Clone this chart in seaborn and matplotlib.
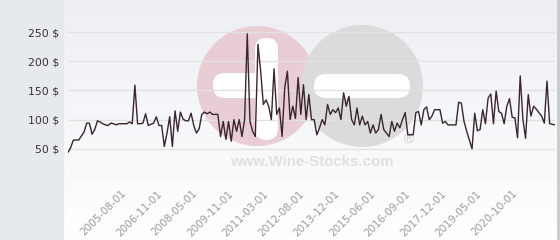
import numpy as np
import pandas as pd
import matplotlib
matplotlib.use("Agg")
import matplotlib.pyplot as plt
import matplotlib.colors as mcolors
from matplotlib.patches import Circle, FancyBboxPatch, Rectangle
import seaborn as sns

# ---- data ----
prices = [
    44, 52, 65, 65, 65, 72, 79, 94, 94, 75, 83, 98, 96, 93, 91, 90, 94, 93, 91,
    93, 93, 93, 93, 96, 93, 159, 93, 93, 94, 110, 90, 92, 94, 105, 90, 90, 54, 77,
    105, 54, 115, 80, 113, 101, 98, 98, 111, 90, 77, 84, 109, 113, 110, 113, 109, 109, 109,
    71, 97, 66, 97, 63, 100, 80, 100, 71, 100, 247, 97, 80, 71, 229, 183, 126, 134, 123, 100,
    187, 109, 120, 71, 155, 183, 100, 123, 102, 172, 109, 160, 100, 143, 100, 100, 74, 86, 100, 91,
    126, 109, 117, 112, 120, 100, 146, 123, 140, 100, 91, 120, 91, 106, 91, 97, 77, 91, 77, 83,
    109, 83, 77, 71, 97, 80, 94, 86, 100, 112, 74, 74, 74, 112, 114, 91, 117, 122, 100, 106, 117,
    117, 117, 94, 97, 91, 91, 91, 91, 130, 128, 97, 80, 65, 50, 111, 81, 83, 117, 93, 137, 144, 93,
    149, 114, 111, 93, 123, 136, 104, 103, 69, 175, 101, 68, 143, 106, 123, 118, 112, 106, 94, 166,
    93, 92, 91,
]
tick_labels = ["2005-08-01", "2006-11-01", "2008-05-01", "2009-11-01", "2011-03-01",
               "2012-08-01", "2013-12-01", "2015-06-01", "2016-09-01", "2017-12-01",
               "2019-05-01", "2020-10-01"]
y_ticks = [0, 50, 100, 150, 200, 250]
first_tick = 21.3
tick_step = 13.27

sns.set_theme(style="white")
plt.rcParams["font.family"] = ["DejaVu Sans"]

W, H = 560, 240
fig = plt.figure(figsize=(W / 100, H / 100), dpi=100)

# background / watermark layer in pixel coordinates
bg = fig.add_axes([0, 0, 1, 1], zorder=0)
bg.set_xlim(0, W)
bg.set_ylim(H, 0)
bg.axis("off")
g = np.linspace(0, 1, H)[:, None, None]
top = np.array(mcolors.to_rgb("#edeff4"))
bot = np.array([1.0, 1.0, 1.0])
img = top * (1 - g) + bot * g
bg.imshow(img, extent=(63, W, H, 0), aspect="auto", zorder=0)
bg.add_patch(Rectangle((0, 0), 63, H, color="#e6eaed", zorder=1))
bg.plot([557.5, 557.5], [0, H], color="#c9c9c9", lw=2, zorder=1)

pink = "#e9cdd4"
grey = "#dbdbdb"
bg.add_patch(Circle((257, 86), 60, color=pink, zorder=2, lw=0))
bg.add_patch(FancyBboxPatch((213, 73), 55, 25, boxstyle="round,pad=0,rounding_size=12",
                            color="white", zorder=3, lw=0))
bg.add_patch(FancyBboxPatch((255, 38), 23, 102, boxstyle="round,pad=0,rounding_size=11",
                            color="white", zorder=3, lw=0))
bg.add_patch(Circle((362, 86), 61, color=grey, zorder=4, lw=0))
bg.add_patch(FancyBboxPatch((314, 74), 96, 24, boxstyle="round,pad=0,rounding_size=12",
                            color="white", zorder=5, lw=0))
bg.text(312, 162, "www.Wine-Stocks.com", ha="center", va="center", fontsize=10.8,
        fontweight="bold", family=["Liberation Sans", "DejaVu Sans"], color="#e0e0e0", zorder=6)
bg.text(408, 140, "®", ha="center", va="center", fontsize=10, color="#d3d3d3", zorder=6)

# main chart
ax = fig.add_axes([68 / W, (H - 178) / H, 487 / W, 178 / H], zorder=2)
ax.patch.set_alpha(0)
df = pd.DataFrame({"idx": np.arange(len(prices)), "price": prices})
sns.lineplot(data=df, x="idx", y="price", ax=ax, color="#3a2530", linewidth=1.0)
ax.set_xlim(0, len(prices) - 1)
ax.set_ylim(0, 305)
ax.set_yticks(y_ticks)
ax.set_yticklabels([""] + [f"{v} $" for v in y_ticks[1:]])
ax.grid(axis="y", color="#e2e2e2", lw=1)
ax.grid(axis="x", visible=False)
for s in ax.spines.values():
    s.set_visible(False)
ax.tick_params(axis="y", length=0, pad=6.5, labelsize=7.8, labelcolor="#333333")
tick_pos = [first_tick + tick_step * k for k in range(len(tick_labels))]
ax.set_xticks(tick_pos)
ax.set_xticklabels(tick_labels, rotation=45, ha="right", va="center", rotation_mode="anchor")
ax.tick_params(axis="x", length=0, pad=10, labelsize=7.5, labelcolor="#9a9a9a")
ax.set_xlabel("")
ax.set_ylabel("")

fig.savefig("out.png", dpi=100)
